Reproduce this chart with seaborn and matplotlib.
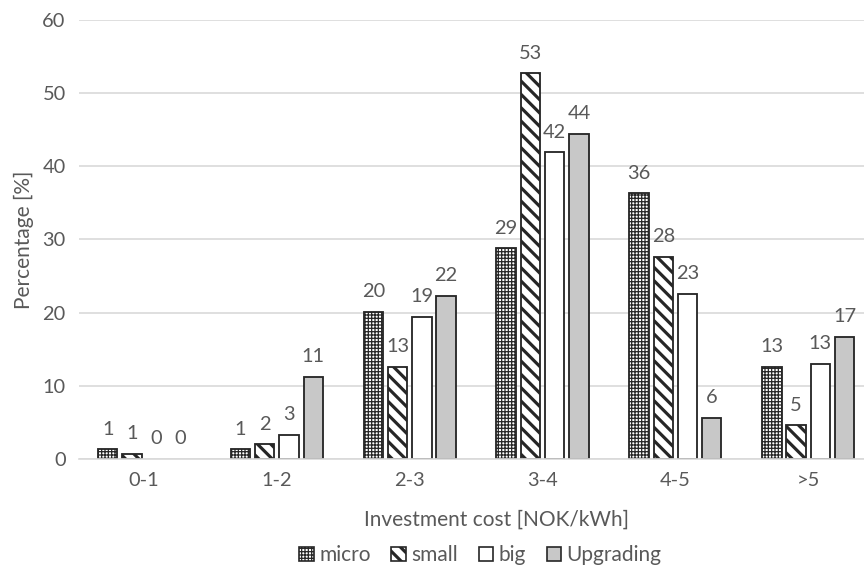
import matplotlib
matplotlib.use("Agg")
import matplotlib.pyplot as plt
from matplotlib.patches import Patch
import pandas as pd
import seaborn as sns

# Share of plants per investment cost band, by plant category
cost_bands = ["0-1", "1-2", "2-3", "3-4", "4-5", ">5"]
micro = [1.3, 1.3, 20.1, 28.8, 36.3, 12.6]
small = [0.7, 2.0, 12.6, 52.7, 27.6, 4.6]
big = [0.0, 3.3, 19.4, 41.9, 22.6, 13.0]
upgrading = [0.0, 11.2, 22.3, 44.4, 5.6, 16.7]

series_names = ["micro", "small", "big", "Upgrading"]
series_values = [micro, small, big, upgrading]

df = pd.DataFrame(
    [(band, name, val)
     for name, vals in zip(series_names, series_values)
     for band, val in zip(cost_bands, vals)],
    columns=["band", "series", "value"],
)

sns.set_theme(style="white")
plt.rcParams["font.family"] = ["Lato", "DejaVu Sans"]
plt.rcParams["hatch.color"] = "#1a1a1a"
plt.rcParams["hatch.linewidth"] = 2.0

TEXT = "#595959"
GRID = "#d9d9d9"
EDGE = "#262626"
BACKSLASH = chr(92)

fills = {"micro": "white", "small": "white", "big": "white", "Upgrading": "#c8c8c8"}
hatches = {"micro": "++++++", "small": BACKSLASH * 3, "big": "", "Upgrading": ""}
hatch_lw = {"micro": 0.75, "small": 1.9, "big": 1.0, "Upgrading": 1.0}

fig = plt.figure(figsize=(7.2, 4.75), dpi=120)
ax = fig.add_axes([0.0914, 0.195, 0.9086, 0.77])

sns.barplot(
    data=df, x="band", y="value", hue="series",
    order=cost_bands, hue_order=series_names,
    palette=fills, width=0.73, gap=0.2,
    edgecolor=EDGE, linewidth=1.1, legend=False, ax=ax,
)


def style_patch(p, name):
    p.set_hatch(hatches[name])
    if hasattr(p, "set_hatch_linewidth"):
        p.set_hatch_linewidth(hatch_lw[name])
    else:
        p._hatch_linewidth = hatch_lw[name]


for name, container in zip(series_names, ax.containers):
    for p in container:
        style_patch(p, name)
        if p.get_height() == 0:
            p.set_linewidth(0)
    ax.bar_label(
        container,
        labels=[f"{v:.0f}" for v in series_values[series_names.index(name)]],
        padding=7, color=TEXT, fontsize=12,
    )

ax.set_ylim(0, 60)
ax.set_yticks(range(0, 61, 10))
ax.set_xlim(-0.49, 5.42)
ax.yaxis.grid(True, color=GRID, linewidth=1.0)
ax.set_axisbelow(True)
for side in ["top", "right", "left"]:
    ax.spines[side].set_visible(False)
ax.spines["bottom"].set_color(GRID)
ax.spines["bottom"].set_linewidth(1.0)
ax.tick_params(axis="both", length=0, colors=TEXT, labelsize=12)
ax.tick_params(axis="x", pad=8)
ax.tick_params(axis="y", pad=8)

ax.set_xlabel("Investment cost [NOK/kWh]", color=TEXT, fontsize=12.5)
ax.xaxis.set_label_coords(0.532, -0.115)
ax.set_ylabel("Percentage [%]", color=TEXT, fontsize=12.5, labelpad=5)

handles = [Patch(facecolor=fills[name], edgecolor=EDGE, linewidth=1.0, label=name)
           for name in series_names]
leg = fig.legend(
    handles=handles, loc="center", bbox_to_anchor=(0.556, 0.026), ncol=4,
    frameon=False, fontsize=12.5, labelcolor=TEXT,
    handlelength=0.7, handleheight=0.7, handletextpad=0.25, columnspacing=1.0,
)
for name, p in zip(series_names, leg.get_patches()):
    style_patch(p, name)

fig.savefig("out.png", dpi=120)
